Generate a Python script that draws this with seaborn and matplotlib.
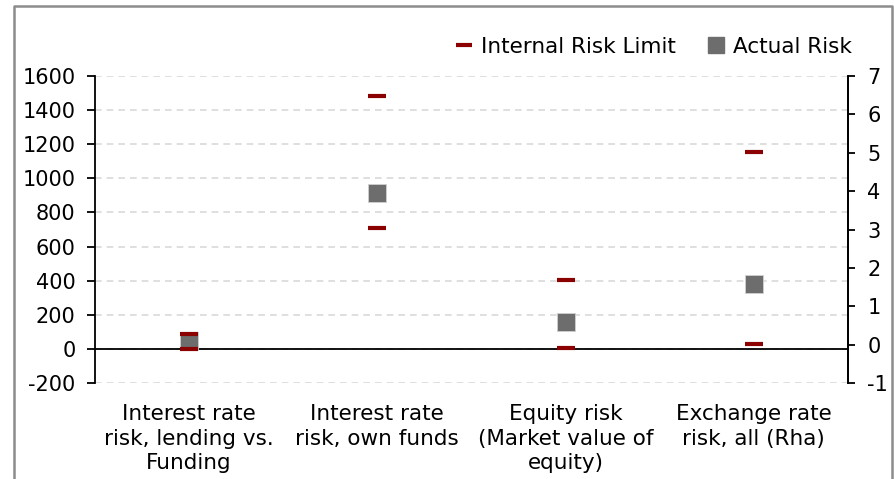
import seaborn as sns
import matplotlib.pyplot as plt
import pandas as pd
from matplotlib.lines import Line2D

# chart data
categories = ['Interest rate\nrisk, lending vs.\nFunding',
              'Interest rate\nrisk, own funds',
              'Equity risk\n(Market value of\nequity)',
              'Exchange rate\nrisk, all (Rha)']
limit_high = [88, 1480, 405, 1155]
limit_low = [0, 710, 5, 30]
actual_risk = [45, 915, 155, 380]
left_ticks = [-200, 0, 200, 400, 600, 800, 1000, 1200, 1400, 1600]
right_ticks = [-1, 0, 1, 2, 3, 4, 5, 6, 7]

sns.set_theme(style='white')
plt.rcParams['font.family'] = ['DejaVu Sans']
plt.rcParams['text.color'] = 'black'
plt.rcParams['xtick.color'] = 'black'
plt.rcParams['ytick.color'] = 'black'

limits = pd.DataFrame({
    'x': list(range(len(categories))) * 2,
    'value': limit_high + limit_low,
})
actual = pd.DataFrame({'x': range(len(categories)), 'value': actual_risk})

dark_red = '#8b0000'
grey = '#6d6d6d'

fig = plt.figure(figsize=(8.95, 4.79), dpi=100)
ax = fig.add_axes([95 / 895, 1 - 383 / 479, (848 - 95) / 895, (383 - 76) / 479])

# grid + zero line
for t in left_ticks:
    ax.axhline(t, color='#d9d9d9', lw=1.2, ls=(0, (4, 3)), zorder=0)
ax.axhline(0, color='black', lw=1.3, zorder=1)

sns.scatterplot(data=actual, x='x', y='value', marker='s', s=170,
                color=grey, edgecolor='#d0d0d0', linewidth=0.6, ax=ax,
                zorder=3, legend=False)
sns.scatterplot(data=limits, x='x', y='value', marker='_', s=170,
                color=dark_red, linewidth=3, ax=ax, zorder=4, legend=False)

ax.set_xlim(-0.5, len(categories) - 0.5)
ax.set_ylim(-200, 1600)
ax.set_yticks(left_ticks)
ax.set_yticklabels([str(t) for t in left_ticks], fontsize=15)
ax.set_xticks(range(len(categories)))
ax.set_xticklabels(categories, fontsize=15.5, linespacing=1.3)
ax.tick_params(axis='x', length=0, pad=15)
ax.tick_params(axis='y', length=6, width=1.3, color='black', pad=8, left=True)
ax.set_xlabel('')
ax.set_ylabel('')
for side in ['top', 'bottom']:
    ax.spines[side].set_visible(False)
for side in ['left', 'right']:
    ax.spines[side].set_color('black')
    ax.spines[side].set_linewidth(1.3)

ax2 = ax.twinx()
ax2.set_ylim(-1, 7)
ax2.set_yticks(right_ticks)
ax2.set_yticklabels([str(t) for t in right_ticks], fontsize=15)
ax2.tick_params(axis='y', length=5, width=1.3, color='black', pad=9, right=True)
for side in ['top', 'bottom', 'left']:
    ax2.spines[side].set_visible(False)
ax2.spines['right'].set_color('black')
ax2.spines['right'].set_linewidth(1.3)

handles = [
    Line2D([], [], color=dark_red, marker='_', ls='none', markersize=11, markeredgewidth=3),
    Line2D([], [], color=grey, marker='s', ls='none', markersize=11),
]
fig.legend(handles, ['Internal Risk Limit', 'Actual Risk'], loc='center right',
           bbox_to_anchor=(863 / 895, 1 - 47 / 479), ncol=2, frameon=False,
           fontsize=15.5, handlelength=0.7, handletextpad=0.45, columnspacing=1.5,
           borderpad=0)

# outer chart frame (left, top, right)
fx0, fx1, fy = 14 / 895, 892 / 895, 1 - 6 / 479
fig.add_artist(Line2D([fx0, fx0, fx1, fx1], [0, fy, fy, 0], color='#8c8c8c', lw=1.8))

fig.savefig('out.png', dpi=100)
